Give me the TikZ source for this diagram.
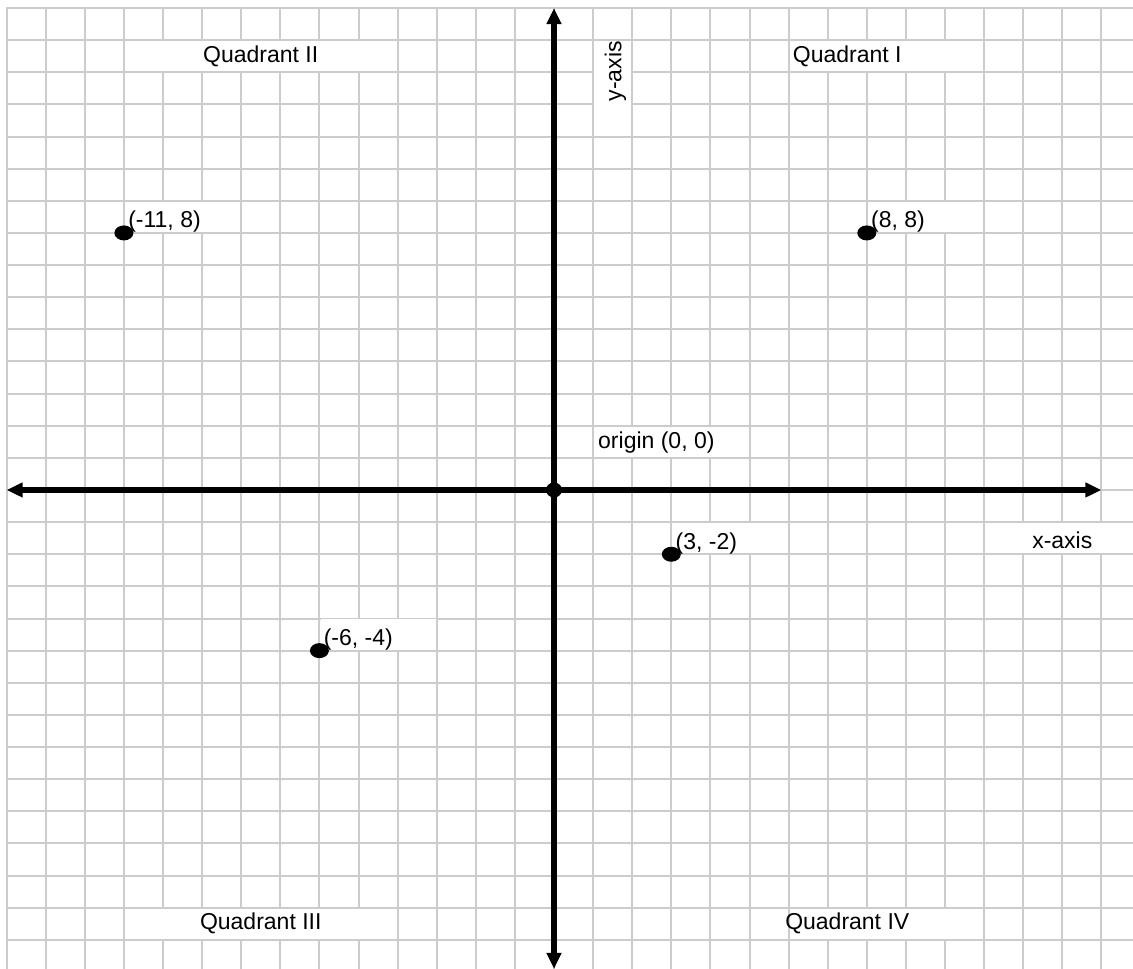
\documentclass[tikz,border=0pt]{standalone}
\usepackage{fontspec}
\setmainfont{Liberation Sans}
\usetikzlibrary{arrows.meta,shapes.geometric}
\definecolor{gridgray}{RGB}{204,204,204}

\begin{document}
\begin{tikzpicture}[x=19.55pt, y=16.065pt,
    gridline/.style={draw=gridgray, line width=1pt},
    axis/.style={line width=2.8pt, {Triangle[length=8pt,width=7pt]}-{Triangle[length=8pt,width=7pt]}},
    dot/.style={ellipse, fill=black, inner sep=0pt, minimum width=9.5pt, minimum height=7.5pt},
    blank/.style={fill=white},
    txt/.style={font=\fontsize{11.5}{13}\selectfont, inner sep=0pt},
    ptlabel/.style={txt, anchor=base west, xshift=2pt, yshift=2.5pt}
]
    \useasboundingbox (-14.169,-14.908) rectangle (14.808,15.25);

    % Graph paper
    \draw[gridline, step={(1,1)}] (-14.02,-14.908) grid (14.808,15.02);

    % Blank cells behind the texts
    \fill[blank] (-10.97,13.03) rectangle (-4.03,13.97);
    \fill[blank] (6.03,13.03) rectangle (10.97,13.97);
    \fill[blank] (-10.97,-13.97) rectangle (-4.03,-13.03);
    \fill[blank] (6.03,-13.97) rectangle (10.97,-13.03);
    \fill[blank] (1.03,11.03) rectangle (1.97,13.97);
    \fill[blank] (1.03,1.03) rectangle (4.97,1.97);
    \fill[blank] (11.03,-1.97) rectangle (14.9,-1.03);
    \fill[blank] (8.03,8.03) rectangle (10.97,8.97);
    \fill[blank] (-10.97,8.03) rectangle (-8.03,8.97);
    \fill[blank] (3.03,-1.97) rectangle (5.97,-1.03);
    \fill[blank] (-5.97,-4.97) rectangle (-3.03,-4.03);

    % Axes
    \coordinate (xL) at (-14,0);
    \coordinate (xR) at (14,0);
    \coordinate (yT) at (0,15);
    \coordinate (yB) at (0,-14.908);
    \draw[axis] (xL) -- (xR);
    \draw[axis] (yB) -- (yT);

    \node[txt] (xlab) at (13,-1.55) {x-axis};
    \node[txt, rotate=90] (ylab) at (1.57,13.03) {y-axis};

    % Quadrant names
    \node[txt] (q1) at (7.5,13.5) {Quadrant I};
    \node[txt] (q2) at (-7.5,13.5) {Quadrant II};
    \node[txt] (q3) at (-7.5,-13.5) {Quadrant III};
    \node[txt] (q4) at (7.5,-13.5) {Quadrant IV};

    % Points
    \node[dot, minimum width=8pt] (o) at (0,0) {};
    \node[txt, anchor=west] (olab) at (1.12,1.47) {origin (0, 0)};

    \node[dot] (pA) at (8,8) {};
    \node[dot] (pB) at (-11,8) {};
    \node[dot] (pC) at (3,-2) {};
    \node[dot] (pD) at (-6,-5) {};

    \node[ptlabel] (lA) at (pA) {(8, 8)};
    \node[ptlabel] (lB) at (pB) {(-11, 8)};
    \node[ptlabel] (lC) at (pC) {(3, -2)};
    \node[ptlabel] (lD) at (pD) {(-6, -4)};
\end{tikzpicture}
\end{document}
